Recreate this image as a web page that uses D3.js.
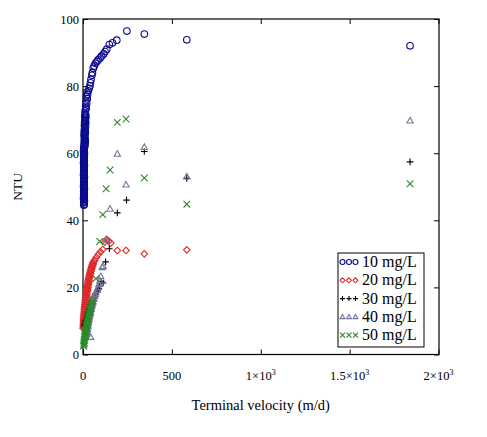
<!DOCTYPE html>
<html><head><meta charset="utf-8">
<script src="https://cdn.jsdelivr.net/npm/d3@7/dist/d3.min.js"></script>
<style>body{margin:0;background:#fff}text{font-family:"Liberation Serif","Times New Roman",serif}</style>
</head><body><svg id="c" width="487" height="437"></svg>
<script>
// ---- data ----
const seriesNames = ["10 mg/L","20 mg/L","30 mg/L","40 mg/L","50 mg/L"];
const xTicks = [0,500,1000,1500,2000];
const xTickLabels = [["0",""],["500",""],["1\u00d710","3"],["1.5\u00d710","3"],["2\u00d710","3"]];
const yTicks = [0,20,40,60,80,100];

const vel10 = [5,7,4,6,8,5,3,6,7,4,5,7,4,6,8,5,3,6,7,4,5,7,4,6,8,5,3,6,7,4,5,7,4,6,8,5,3,6,7,4,5,7,4,6,8,5,3,6,7,4,
  8,11,6,10,13,7,12,9,8,11,6,10,13,7,12,9,10,14,8,12,15,9,14,11,12,16,10,15,13,
  12,18,15,21,17,24,19,26,22,30,34,39,42,45,50,53,58,63,70,78,85,96,105,116,124,134,148,166,190,247,345,584,1840];
const ntu10 = [44.5,44.8,45.2,45.5,45.9,46.2,46.6,46.9,47.3,47.6,48,48.3,48.7,49,49.4,49.7,50.1,50.4,50.8,51.1,51.5,51.8,52.2,52.5,52.9,53.2,53.6,53.9,54.3,54.6,55,55.3,55.7,56,56.4,56.7,57.1,57.4,57.8,58.1,58.5,58.8,59.2,59.5,59.9,60.2,60.6,60.9,61.3,61.6,
  62,62.3,62.7,63,63.4,63.7,64.1,64.4,64.8,65.1,65.5,65.8,66.2,66.5,66.9,67.2,67.6,67.9,68.3,68.6,69,69.3,69.7,70,70.4,70.7,71.1,71.4,71.8,
  72.6,73.3,74,74.8,75.5,76.2,77,77.6,78.2,78.6,79.3,80,81,82,83.2,84,85.3,86,86.8,87.3,87.8,88.4,89,89.6,90.3,91,92.4,92.9,93.7,96.4,95.5,93.8,92];

const vel20 = [1,3,1,4,2,5,2,6,3,7,4,8,5,9,6,11,7,12,8,13,10,15,11,17,13,18,15,20,16,22,18,24,20,26,22,28,24,30,26,32,28,34,30,37,33,40,36,43,39,46,43,50,47,54,51,58,56,62,
  66,75,86,98,111,122,133,145,156,193,242,345,584];
const ntu20 = [7.8,8.1,8.5,8.8,9.2,9.5,9.9,10.2,10.6,10.9,11.3,11.6,12,12.3,12.7,13,13.4,13.7,14.1,14.4,14.8,15.1,15.5,15.8,16.2,16.5,16.9,17.2,17.6,17.9,18.3,18.6,19,19.3,19.7,20,20.4,20.7,21.1,21.4,21.8,22.1,22.5,22.8,23.2,23.5,23.9,24.2,24.6,24.9,25.3,25.6,26,26.3,26.7,27,27.4,27.8,
  28.2,29,29.8,30.6,31.3,33.5,34.3,33.8,33.2,31,31,30,31.2];

const vel30 = [8,10,12,14,16,18,21,23,25,27,30,32,35,37,40,42,45,48,51,54,57,60,63,67,71,75,79,84,89,93,103,113,127,148,193,245,345,584,1840];
const ntu30 = [8.5,8.9,9.3,9.7,10.1,10.5,10.9,11.3,11.7,12.1,12.5,12.9,13.3,13.7,14.1,14.5,14.9,15.3,15.7,16.1,16.5,16.9,17.3,17.7,18.1,18.5,18.9,19.3,19.7,20.3,21.8,21.3,27.6,31.5,42.2,46,60.5,52.5,57.4];

const vel40 = [43,20,22,21,25,24,28,27,31,30,34,33,38,37,42,41,46,45,50,50,55,55,60,61,66,68,73,80,85,90,95,100,108,113,133,152,193,242,345,584,1840];
const ntu40 = [5.2,6,6.5,7,7.5,8,8.5,9,9.5,10,10.5,11,11.5,12,12.5,13,13.5,14,14.5,15,15.5,16,16.5,17,17.5,18,18.5,19.2,20,21,22,23.3,26,26.3,34,43.4,59.8,50.6,61.8,53,69.7];

const vel50 = [3,6,4,8,5,10,7,12,8,14,10,16,12,18,14,20,16,22,18,25,20,27,23,30,26,33,29,36,32,39,36,40,42,45,48,52,56,
  72,94,111,130,152,193,242,345,584,1840];
const ntu50 = [2.5,2.8,3.2,3.5,3.9,4.2,4.6,4.9,5.3,5.6,6,6.3,6.7,7,7.4,7.7,8.1,8.4,8.8,9.1,9.5,9.8,10.2,10.5,10.9,11.2,11.6,11.9,12.3,12.6,13,13.4,13.8,14.3,14.8,15.4,16,
  22.6,33.7,41.7,49.4,55,69.2,70.2,52.6,44.8,50.9];

const allVel = [vel10,vel20,vel30,vel40,vel50];
const allNtu = [ntu10,ntu20,ntu30,ntu40,ntu50];
const colors = ["#0a0a8c","#e02828","#000000","#74749a","#2a8a2a"];
const shapes = ["circle","diamond","plus","triangle","cross"];

// ---- layout ----
const L=83, R=438.5, T=19, B=354.5;
const svg = d3.select("#c");
const x = d3.scaleLinear().domain([0,2000]).range([L,R]);
const y = d3.scaleLinear().domain([0,100]).range([B,T]);

function shapePath(s, cx, cy, r){
  if(s==="diamond") return `M${cx},${cy-r}L${cx+r},${cy}L${cx},${cy+r}L${cx-r},${cy}Z`;
  if(s==="plus") return `M${cx-r},${cy}H${cx+r}M${cx},${cy-r}V${cy+r}`;
  if(s==="triangle") return `M${cx},${cy-r}L${cx+r*0.95},${cy+r*0.7}L${cx-r*0.95},${cy+r*0.7}Z`;
  if(s==="cross") return `M${cx-r},${cy-r}L${cx+r},${cy+r}M${cx+r},${cy-r}L${cx-r},${cy+r}`;
  return null;
}
function drawMarker(g, s, cx, cy, r, col){
  if(s==="circle") g.append("circle").attr("cx",cx).attr("cy",cy).attr("r",r).attr("fill","none").attr("stroke",col).attr("stroke-width",1.1);
  else g.append("path").attr("d",shapePath(s,cx,cy,r)).attr("fill","none").attr("stroke",col).attr("stroke-width",1.1);
}

// frame
svg.append("rect").attr("x",L).attr("y",T).attr("width",R-L+0.5).attr("height",B-T).attr("fill","none").attr("stroke","#000").attr("stroke-width",1.2);

// axes via d3 (inward ticks)
const gx = svg.append("g").attr("transform",`translate(0,${B})`).call(d3.axisBottom(x).tickValues(xTicks).tickSize(-5).tickFormat(""));
const gxt = svg.append("g").attr("transform",`translate(0,${T})`).call(d3.axisTop(x).tickValues(xTicks).tickSize(-5).tickFormat(""));
const gy = svg.append("g").attr("transform",`translate(${L},0)`).call(d3.axisLeft(y).tickValues(yTicks).tickSize(-5).tickPadding(4).tickFormat(d3.format("d")));
const gyr = svg.append("g").attr("transform",`translate(${R+0.5},0)`).call(d3.axisRight(y).tickValues(yTicks).tickSize(-5).tickFormat(""));
[gx,gxt,gy,gyr].forEach(g=>{g.select(".domain").remove(); g.selectAll("line").attr("stroke","#000"); g.attr("font-family","Liberation Serif");});
gy.selectAll("text").attr("font-size",12.5).attr("fill","#000");

// x tick labels with superscripts
xTicks.forEach((v,i)=>{
  const t = svg.append("text").attr("x",x(v)).attr("y",380).attr("text-anchor","middle").attr("font-size",12.5);
  t.append("tspan").text(xTickLabels[i][0]);
  if(xTickLabels[i][1]) t.append("tspan").attr("font-size",8).attr("dy",-5).text(xTickLabels[i][1]);
});

// titles
svg.append("text").attr("x",(L+R)/2).attr("y",410).attr("text-anchor","middle").attr("font-size",14.5).text("Terminal velocity (m/d)");
svg.append("text").attr("transform",`translate(22,${(T+B)/2}) rotate(-90)`).attr("text-anchor","middle").attr("font-size",13.5).text("NTU");

// points
const gp = svg.append("g");
allVel.forEach((vs,si)=>{
  const g = gp.append("g");
  vs.forEach((v,j)=>{
    drawMarker(g, shapes[si], x(v), y(allNtu[si][j]), 3.3, colors[si]);
  });
});

// legend
const lg = svg.append("g");
lg.append("rect").attr("x",338).attr("y",253).attr("width",86).attr("height",94).attr("fill","#fff").attr("stroke","#000").attr("stroke-width",1);
seriesNames.forEach((n,i)=>{
  const cy = 262 + i*18.3;
  [342.5,349,355.5].forEach(cx=>drawMarker(lg, shapes[i], cx, cy, 2.5, colors[i]));
  lg.append("text").attr("x",362).attr("y",cy+5).attr("font-size",16).text(n);
});
</script></body></html>
